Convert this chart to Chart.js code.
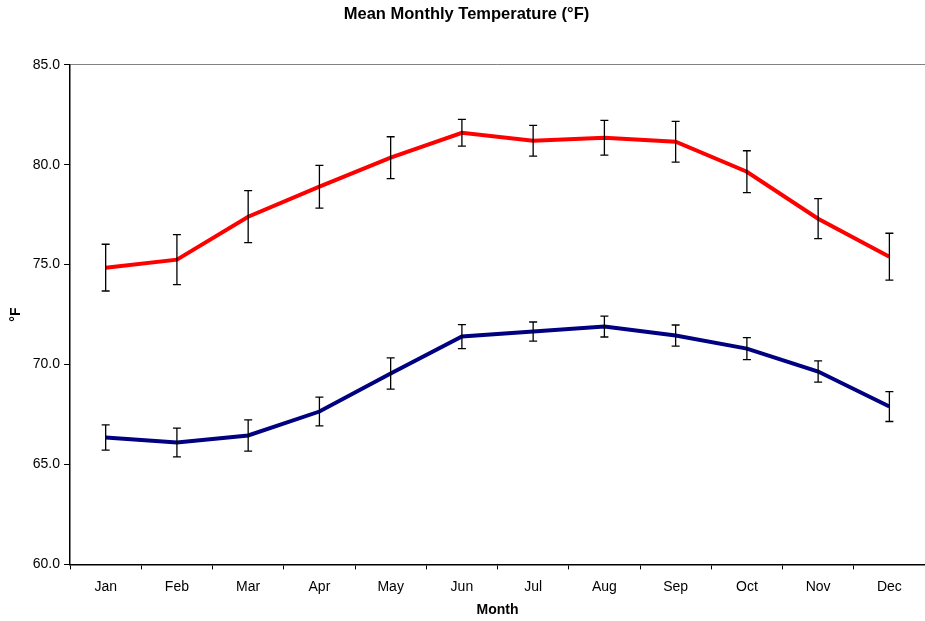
<!DOCTYPE html>
<html>
<head>
<meta charset="utf-8">
<script src="https://cdn.jsdelivr.net/npm/chart.js@4"></script>
<style>
  html, body { margin: 0; padding: 0; background: #fff; }
  #wrap { width: 925px; height: 621px; }
</style>
</head>
<body>
<div id="wrap"><canvas id="tempChart" width="925" height="621"></canvas></div>
<script>
const months = ['Jan', 'Feb', 'Mar', 'Apr', 'May', 'Jun', 'Jul', 'Aug', 'Sep', 'Oct', 'Nov', 'Dec'];

// upper series (red) and its error margins
const highTemps = [74.85, 75.25, 77.4, 78.9, 80.35, 81.6, 81.2, 81.35, 81.15, 79.65, 77.3, 75.4];
const highErr   = [1.17, 1.25, 1.3, 1.07, 1.05, 0.67, 0.77, 0.87, 1.02, 1.05, 1.0, 1.17];

// lower series (navy) and its error margins
const lowTemps = [66.35, 66.1, 66.45, 67.65, 69.55, 71.4, 71.65, 71.9, 71.45, 70.8, 69.65, 67.9];
const lowErr   = [0.63, 0.72, 0.78, 0.72, 0.78, 0.6, 0.48, 0.52, 0.53, 0.55, 0.53, 0.75];

const yTicks = [60, 65, 70, 75, 80, 85];

// draws vertical error bars with caps for every dataset that has an errors array
const errorBars = {
    id: 'errorBars',
    afterDatasetsDraw(chart) {
        const ctx = chart.ctx;
        const y = chart.scales.y;
        ctx.save();
        ctx.strokeStyle = '#000';
        ctx.lineWidth = 1.3;
        chart.data.datasets.forEach((ds, i) => {
            const meta = chart.getDatasetMeta(i);
            meta.data.forEach((pt, j) => {
                const v = ds.data[j];
                const e = ds.errors[j];
                const top = y.getPixelForValue(v + e);
                const bot = y.getPixelForValue(v - e);
                ctx.beginPath();
                ctx.moveTo(pt.x, top);
                ctx.lineTo(pt.x, bot);
                ctx.moveTo(pt.x - 4, top);
                ctx.lineTo(pt.x + 4, top);
                ctx.moveTo(pt.x - 4, bot);
                ctx.lineTo(pt.x + 4, bot);
                ctx.stroke();
            });
        });
        ctx.restore();
    }
};

new Chart(document.getElementById('tempChart'), {
    type: 'line',
    data: {
        labels: months,
        datasets: [{
            label: 'High',
            data: highTemps,
            errors: highErr,
            borderColor: '#ff0000',
            borderWidth: 4,
            pointRadius: 0,
            tension: 0
        }, {
            label: 'Low',
            data: lowTemps,
            errors: lowErr,
            borderColor: '#000080',
            borderWidth: 4,
            pointRadius: 0,
            tension: 0
        }]
    },
    options: {
        responsive: false,
        animation: false,
        layout: { padding: { left: 8, right: 0, top: 0, bottom: 2 } },
        plugins: {
            legend: { display: false },
            tooltip: { enabled: false },
            title: {
                display: true,
                text: 'Mean Monthly Temperature (°F)',
                color: '#000',
                font: { family: 'Liberation Sans, Arial', size: 16.5, weight: 'bold' },
                padding: { top: 5, bottom: 40 }
            }
        },
        scales: {
            x: {
                offset: true,
                grid: {
                    offset: true,
                    drawOnChartArea: false,
                    tickLength: 5,
                    tickColor: '#000'
                },
                border: { color: '#000', width: 1.5 },
                ticks: {
                    color: '#000',
                    padding: 9,
                    maxRotation: 0,
                    font: { family: 'Liberation Sans, Arial', size: 14 }
                },
                title: {
                    display: true,
                    text: 'Month',
                    color: '#000',
                    padding: { top: -2, bottom: 0 },
                    font: { family: 'Liberation Sans, Arial', size: 14, weight: 'bold' }
                }
            },
            y: {
                min: 60,
                max: 85,
                afterBuildTicks(axis) {
                    axis.ticks = yTicks.map(v => ({ value: v }));
                },
                grid: {
                    color: c => (c.tick && c.tick.value === 85) ? '#808080' : 'rgba(0,0,0,0)',
                    tickColor: '#000',
                    tickLength: 6
                },
                border: { color: '#000', width: 1.5 },
                ticks: {
                    color: '#000',
                    padding: 4,
                    font: { family: 'Liberation Sans, Arial', size: 14 },
                    callback: v => Number(v).toFixed(1)
                },
                title: {
                    display: true,
                    text: '°F',
                    color: '#000',
                    padding: { top: 0, bottom: 4 },
                    font: { family: 'Liberation Sans, Arial', size: 14, weight: 'bold' }
                }
            }
        }
    },
    plugins: [errorBars]
});
</script>
</body>
</html>
